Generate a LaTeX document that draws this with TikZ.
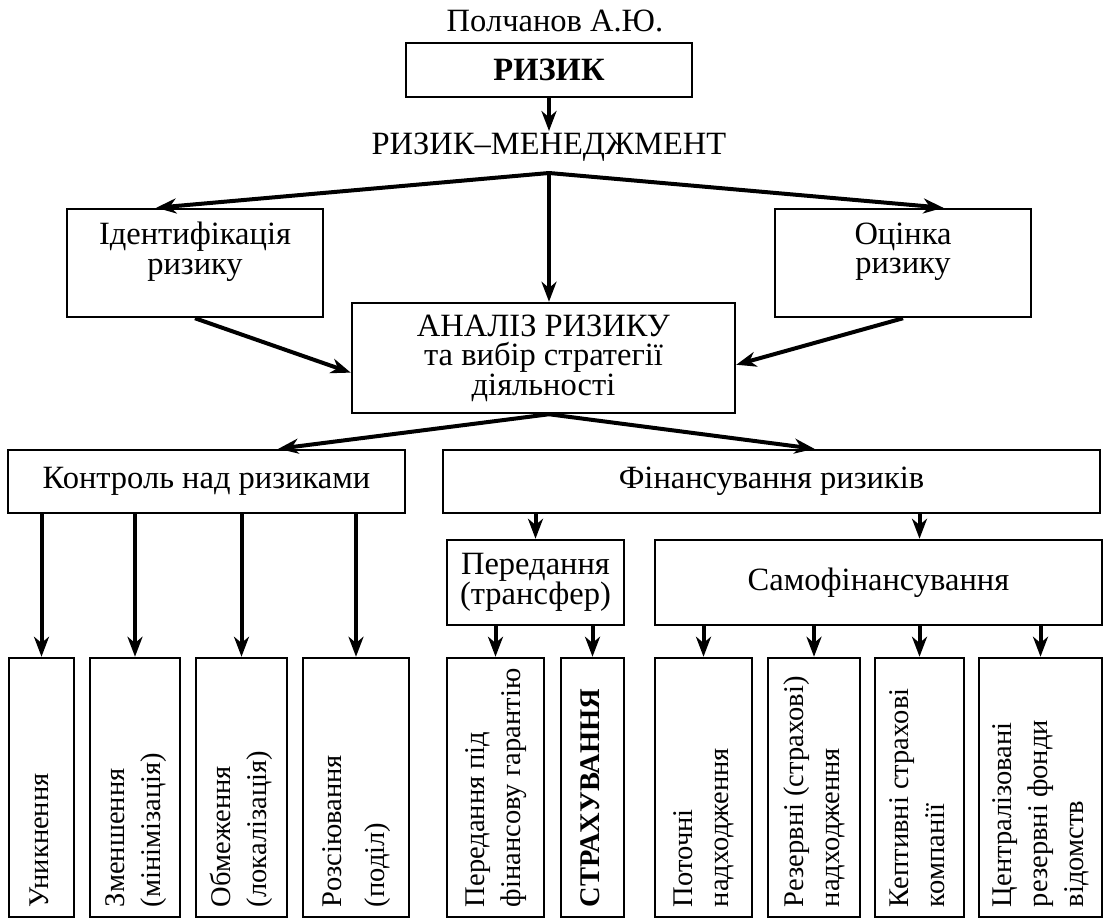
\documentclass[tikz,border=0pt]{standalone}
\usepackage{fontspec}
\setmainfont{Liberation Serif}
\usetikzlibrary{arrows.meta, calc}

\newcommand{\vlab}[1]{\rotatebox{90}{\makebox[95.6pt][l]{\fontsize{11.4}{14.4}\selectfont
  \begin{tabular}{@{}l@{}}#1\end{tabular}}}}

\begin{document}
\begin{tikzpicture}[
    x=0.4pt, y=-0.4pt,
    font=\fontsize{13}{11.8}\selectfont,
    box/.style={draw, line width=1pt, inner sep=2pt, align=center},
    vbox/.style={draw, line width=1pt, inner sep=0pt, minimum height=103.6pt},
    arr/.style={-{Stealth[length=8pt, width=6pt, inset=2.5pt]}, line width=1.6pt}
]
  \useasboundingbox (0,0) rectangle (1105,919);

  \node (author) at (555,21) {Полчанов А.Ю.};
  \node[box, minimum width=114.4pt, minimum height=21.6pt] (risk) at (549,70) {\textbf{РИЗИК}};
  \node[inner sep=0.5pt] (rm) at (549,147) {РИЗИК–МЕНЕДЖМЕНТ};
  \coordinate (split1) at (549,173);

  \node[box, minimum width=102.4pt, minimum height=43.2pt] (ident) at (195,263) {Ідентифікація\\ризику\\\mbox{}};
  \node[box, minimum width=102.4pt, minimum height=43.2pt] (ocin) at (903,263) {Оцінка\\ризику\\\mbox{}};
  \node[box, minimum width=153.2pt, minimum height=44pt] (anal) at (543.5,358) {АНАЛІЗ РИЗИКУ\\та вибір стратегії\\діяльності};
  \coordinate (split2) at (split1 |- anal.south);

  \node[box, minimum width=158.8pt, minimum height=25.2pt] (kontr) at (206.5,481.5) {Контроль над ризиками};
  \node[box, minimum width=262.8pt, minimum height=25.2pt] (fin) at (771.5,481.5) {Фінансування ризиків};
  \node[box, minimum width=70.8pt, minimum height=34pt] (pered) at (535.5,582.5) {Передання\\(трансфер)};
  \node[box, minimum width=178.8pt, minimum height=34pt] (samof) at (878.5,582.5) {Самофінансування};

  % bottom row
  \node[vbox, minimum width=26pt] (unyk) at (41.5,787.5) {\vlab{Уникнення}};
  \node[vbox, minimum width=36pt] (zmen) at (135,787.5) {\vlab{Зменшення\\(мінімізація)}};
  \node[vbox, minimum width=36.4pt] (obm) at (241.5,787.5) {\vlab{Обмеження\\(локалізація)}};
  \node[vbox, minimum width=42.4pt] (rozs) at (356,787.5) {\vlab{Розсіювання\\[3pt](поділ)}};
  \node[vbox, minimum width=38.8pt] (gar) at (495.5,787.5) {\vlab{Передання під\\фінансову гарантію}};
  \node[vbox, minimum width=25.2pt] (strah) at (592.5,787.5) {\vlab{\textbf{СТРАХУВАННЯ}}};
  \node[vbox, minimum width=38.8pt] (potoch) at (703.5,787.5) {\vlab{Поточні\\надходження}};
  \node[vbox, minimum width=36.8pt] (rezerv) at (814,787.5) {\vlab{Резервні (страхові)\\надходження}};
  \node[vbox, minimum width=35.6pt] (kept) at (919.5,787.5) {\vlab{Кептивні страхові\\компанії}};
  \node[vbox, minimum width=49.2pt] (centr) at (1040.5,787.5) {\vlab{Централізовані\\резервні фонди\\відомств}};

  \draw[arr] (risk) -- (rm);
  \draw[arr] (split1) -- ($(ident.north west)!0.35!(ident.north east)$);
  \draw[arr] (split1) -- (anal.north -| split1);
  \draw[arr] (split1) -- ($(ocin.north west)!0.656!(ocin.north east)$);
  \draw[arr] (ident.south) -- ($(anal.north west)!0.63!(anal.south west)$);
  \draw[arr] (ocin.south) -- ($(anal.north east)!0.56!(anal.south east)$);
  \draw[arr] (split2) -- ($(kontr.north west)!0.68!(kontr.north east)$);
  \draw[arr] (split2) -- ($(fin.north west)!0.565!(fin.north east)$);

  \draw[arr] (kontr.south -| unyk) -- (unyk.north);
  \draw[arr] (kontr.south -| zmen) -- (zmen.north);
  \draw[arr] (kontr.south -| obm) -- (obm.north);
  \draw[arr] (kontr.south -| rozs) -- (rozs.north);
  \draw[arr] (fin.south -| pered) -- (pered.north);
  \draw[arr] (fin.south -| kept) -- (samof.north -| kept);
  \draw[arr] (pered.south -| gar) -- (gar.north);
  \draw[arr] (pered.south -| strah) -- (strah.north);
  \draw[arr] (samof.south -| potoch) -- (potoch.north);
  \draw[arr] (samof.south -| rezerv) -- (rezerv.north);
  \draw[arr] (samof.south -| kept) -- (kept.north);
  \draw[arr] (samof.south -| centr) -- (centr.north);
\end{tikzpicture}
\end{document}
